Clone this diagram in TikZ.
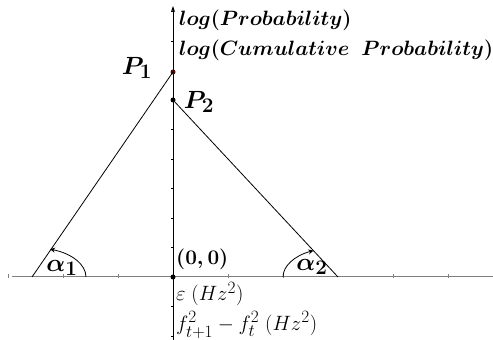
\documentclass[tikz,border=0pt]{standalone}
\usepackage{amsmath}
\usetikzlibrary{arrows.meta,calc}
\DeclareMathSizes{20}{20}{16}{12}
\definecolor{axisgray}{HTML}{808080}
\definecolor{ptred}{HTML}{4A0A0A}
\newcommand{\bmtxt}[1]{{\boldmath$#1$}}
\newcommand{\nmtxt}[1]{$#1$}
\newcommand{\lblfont}{\fontsize{20}{24}\selectfont}
\newcommand{\bigfont}{\fontsize{28}{32}\selectfont}
\tikzset{
  lbl/.style={inner sep=0pt, anchor=west, font=\lblfont},
  biglbl/.style={inner sep=0pt, font=\bigfont},
  seg/.style={black, line width=0.8pt},
  dotpt/.style={circle, fill=black, inner sep=0pt, minimum size=5pt},
  anglearc/.style={black, line width=0.8pt, -{Stealth[length=5pt,width=5pt]}},
}
\begin{document}
\begin{tikzpicture}[x=1pt,y=1pt]
\useasboundingbox (0,0) rectangle (493,340);
\coordinate (xl) at (12,63);
\coordinate (xr) at (493,63);
\coordinate (yb) at (173,0);
\coordinate (yt) at (173,334);
\draw[axisgray, line width=1pt] (xl) -- (xr);
\foreach \x in {8,63,118,228,283,393,448} {\draw[axisgray, line width=0.6pt] (\x,61.5) -- (\x,66);}
\foreach \k in {-2,-1,1,2,3,4,5,6,7,8,9} {\draw[black, line width=0.6pt] (173,63+29.5*\k) -- (170.5,63+29.5*\k);}
\draw[black, line width=0.9pt, -{Stealth[length=6pt,width=4pt]}] (yb) -- (yt);
\node[dotpt, fill=ptred] (P1) at (173,268) {};
\node[dotpt] (P2) at (173,240) {};
\node[dotpt] (O) at (173,63) {};
\coordinate (A) at (32,63);
\coordinate (B) at (338,63);
\coordinate (A1) at (86,63);
\coordinate (B1) at (283,63);
\draw[seg] (A) -- (P1.center);
\draw[seg] (P2.center) -- (B);
\draw[anglearc] (A1) arc[start angle=0, end angle=70.5, x radius=54, y radius=29.5];
\draw[anglearc] (B1) arc[start angle=180, end angle=116.6, x radius=55, y radius=29.5];
\node[lbl] (ltop) at (179,320) {\bmtxt{log(Probability)}};
\node[lbl] (lcum) at (179,290) {\bmtxt{log(Cumulative\ \ Probability)}};
\node[biglbl] (pone) at (137,272) {\bmtxt{P_1}};
\node[biglbl] (ptwo) at (199,238) {\bmtxt{P_2}};
\node[biglbl] (aone) at (62,72) {\bmtxt{\alpha_1}};
\node[biglbl] (atwo) at (312,73) {\bmtxt{\alpha_2}};
\node[lbl] (orig) at (176,81) {\bmtxt{(0,0)}};
\node[lbl] (eps) at (176,46) {\nmtxt{\varepsilon\;(Hz^2)}};
\node[lbl] (ff) at (176,15) {\nmtxt{f_{t+1}^2 - f_t^2\ (Hz^2)}};
\end{tikzpicture}
\end{document}
